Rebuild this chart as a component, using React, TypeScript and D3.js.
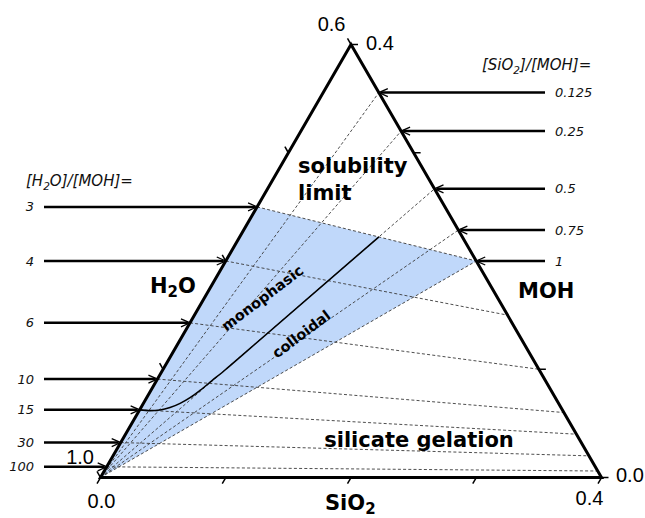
import * as d3 from 'd3';

// ternary sub-triangle: H2O 0.6..1.0, SiO2 0..0.4, MOH 0..0.4
const h2oRatios = [3, 4, 6, 10, 15, 30, 100];
const h2oRatioLabels = ['3', '4', '6', '10', '15', '30', '100'];
const sioRatios = [0.125, 0.25, 0.5, 0.75, 1];
const sioRatioLabels = ['0.125', '0.25', '0.5', '0.75', '1'];
const tickValues = [0, 0.1, 0.2, 0.3, 0.4];

// boundary between monophasic and colloidal (SiO2, MOH mole fractions)
const curveSiO2 = [0, 0.0086, 0.0163, 0.0232, 0.0293, 0.0346, 0.0392, 0.0443, 0.0498, 0.0558, 0.1111];
const curveMOH = [0.0625, 0.0618, 0.0624, 0.0646, 0.0685, 0.0738, 0.0805, 0.0895, 0.0993, 0.1112, 0.2222];

// shaded domain corners: H2O vertex, [H2O]/[MOH]=3 on the edge, [SiO2]/[MOH]=1 on the edge
const shadeSiO2 = [0, 0, 0.2];
const shadeMOH = [0, 0.25, 0.2];

const width = 645;
const height = 518;
const x0 = 100.5;
const y0 = 477.5;
const W = 501;
const H = 433;

const sScale = d3.scaleLinear().domain([0, 0.4]).range([0, W]);
const mScale = d3.scaleLinear().domain([0, 0.4]).range([y0, y0 - H]);
const proj = (s: number, m: number): [number, number] => [x0 + sScale(s) + sScale(m) / 2, mScale(m)];

const TICK = 7;
const dirH2O: [number, number] = [-0.5, -0.866];
const dirSiO2: [number, number] = [-0.5, 0.866];
const dirMOH: [number, number] = [1, 0];

const dash = { stroke: '#3a3a3a', strokeWidth: 0.9, strokeDasharray: '3 2.2', fill: 'none' };
const bold = { fontFamily: 'DejaVu Sans', fontWeight: 700 as const, fill: '#000' };
const ital = { fontFamily: 'DejaVu Sans', fontStyle: 'italic' as const, fill: '#111' };
const num = { fontFamily: 'Liberation Sans, Arial', fontSize: 20, fill: '#000' };

export default function App() {
  const top = proj(0, 0.4);
  const bl = proj(0, 0);
  const br = proj(0.4, 0);

  const line = d3.line<[number, number]>().curve(d3.curveMonotoneX);
  const curvePts = curveSiO2.map((s, i) => proj(s, curveMOH[i]));
  const shadePts = shadeSiO2.map((s, i) => proj(s, shadeMOH[i]));

  const h2oLines = h2oRatios.map(R => ({
    a: proj(0, 1 / (1 + R)),
    b: proj(0.4 - 0.6 / R, 0.6 / R),
  }));
  const sioLines = sioRatios.map(r => ({
    a: proj(0, 0),
    b: proj((0.4 * r) / (1 + r), 0.4 / (1 + r)),
  }));

  const ticks: { p: [number, number]; d: [number, number] }[] = [];
  tickValues.forEach(v => {
    ticks.push({ p: proj(v, 0), d: dirSiO2 });
    ticks.push({ p: proj(0.4 - v, v), d: dirMOH });
    ticks.push({ p: proj(0, v), d: dirH2O });
  });
  const tEnd = (p: [number, number], d: [number, number]): [number, number] => [p[0] + d[0] * TICK, p[1] + d[1] * TICK];

  const leftStart = 44;
  const rightStart = 545;

  return (
    <svg width={width} height={height} style={{ position: 'absolute', left: 0, top: 0, background: '#fff' }}>
      <polygon points={shadePts.map(p => p.join(',')).join(' ')} fill="#c0d8fa" />

      {h2oLines.map((l, i) => (
        <line key={'h' + i} x1={l.a[0]} y1={l.a[1]} x2={l.b[0]} y2={l.b[1]} style={dash} />
      ))}
      {sioLines.map((l, i) => (
        <line key={'s' + i} x1={l.a[0]} y1={l.a[1]} x2={l.b[0]} y2={l.b[1]} style={dash} />
      ))}

      <path d={line(curvePts) || ''} fill="none" stroke="#000" strokeWidth={1.6} />

      <polygon points={[bl, br, top].map(p => p.join(',')).join(' ')} fill="none" stroke="#000" strokeWidth={3} strokeLinejoin="miter" />

      {ticks.map((t, i) => {
        const e = tEnd(t.p, t.d);
        return <line key={'t' + i} x1={t.p[0]} y1={t.p[1]} x2={e[0]} y2={e[1]} stroke="#000" strokeWidth={1.5} />;
      })}

      {/* [H2O]/[MOH] arrows */}
      {h2oRatios.map((R, i) => {
        const [tx, ty] = proj(0, 1 / (1 + R));
        return (
          <g key={'la' + i}>
            <line x1={leftStart} y1={ty} x2={tx - 2} y2={ty} stroke="#000" strokeWidth={2.5} />
            <path d={`M${tx - 9},${ty - 4} L${tx},${ty} L${tx - 9},${ty + 4}`} fill="none" stroke="#000" strokeWidth={1.3} />
            <text x={34} y={ty + 4.5} textAnchor="end" fontSize={13} style={ital}>{h2oRatioLabels[i]}</text>
          </g>
        );
      })}

      {/* [SiO2]/[MOH] arrows */}
      {sioRatios.map((r, i) => {
        const [tx, ty] = proj((0.4 * r) / (1 + r), 0.4 / (1 + r));
        return (
          <g key={'ra' + i}>
            <line x1={rightStart} y1={ty} x2={tx + 2} y2={ty} stroke="#000" strokeWidth={2.5} />
            <path d={`M${tx + 9},${ty - 4} L${tx},${ty} L${tx + 9},${ty + 4}`} fill="none" stroke="#000" strokeWidth={1.3} />
            <text x={555} y={ty + 4.5} fontSize={13} style={ital}>{sioRatioLabels[i]}</text>
          </g>
        );
      })}

      <text x={26} y={186} fontSize={15} style={ital}>
        [H<tspan dy={4} fontSize={10.5}>2</tspan><tspan dy={-4}>O]/[MOH]=</tspan>
      </text>
      <text x={482} y={70} fontSize={15} style={ital}>
        [SiO<tspan dy={4} fontSize={10.5}>2</tspan><tspan dy={-4}>]/[MOH]=</tspan>
      </text>

      {/* vertex values */}
      <text x={tEnd(bl, dirH2O)[0] - 3} y={tEnd(bl, dirH2O)[1] - 7.5} textAnchor="end" style={num}>1.0</text>
      <text x={tEnd(top, dirH2O)[0] - 2} y={tEnd(top, dirH2O)[1] - 7.5} textAnchor="end" style={num}>0.6</text>
      <text x={bl[0] + 1} y={508} textAnchor="middle" style={num}>0.0</text>
      <text x={br[0] - 12} y={505} textAnchor="middle" style={num}>0.4</text>
      <text x={tEnd(top, dirMOH)[0] + 8} y={top[1] + 5.5} style={num}>0.4</text>
      <text x={tEnd(br, dirMOH)[0] + 7.5} y={br[1] + 4.5} style={num}>0.0</text>

      {/* axis names and regions */}
      <text x={150} y={293} fontSize={21} style={bold}>
        H<tspan dy={4} fontSize={15}>2</tspan><tspan dy={-4}>O</tspan>
      </text>
      <text x={518} y={298} fontSize={21} style={bold}>MOH</text>
      <text x={325} y={510} fontSize={21} style={bold}>
        SiO<tspan dy={4} fontSize={15}>2</tspan>
      </text>
      <text x={298} y={173} fontSize={21} style={bold}>solubility</text>
      <text x={298} y={200} fontSize={21} style={bold}>limit</text>
      <text x={419} y={447} fontSize={21} textAnchor="middle" style={bold}>silicate gelation</text>
      <text x={263} y={299} fontSize={14.5} textAnchor="middle" dominantBaseline="middle" transform="rotate(-37 263 299)" style={bold}>monophasic</text>
      <text x={302} y={335} fontSize={14.5} textAnchor="middle" dominantBaseline="middle" transform="rotate(-37 302 335)" style={bold}>colloidal</text>
    </svg>
  );
}
